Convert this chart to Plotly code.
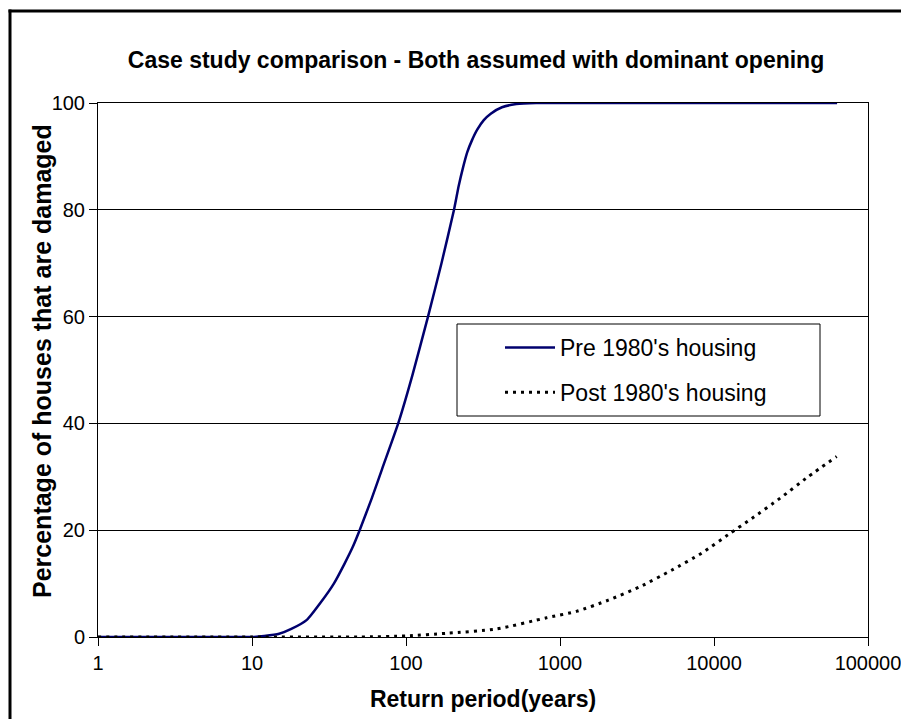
import plotly.graph_objects as go

# ---- data ----
pre_return_period = [1, 2, 5, 10, 12, 15, 18, 22.7, 28, 34, 40, 45, 50, 60, 70, 89, 110, 139,
                     170, 205, 220, 235, 250, 268, 290, 320, 355, 420, 520, 700,
                     1000, 5000, 20000, 63000]
pre_damaged = [0, 0, 0, 0, 0.2, 0.6, 1.5, 3.2, 6.5, 10, 13.8, 16.8, 20, 26, 31.5, 40, 49, 60,
               70, 80, 84.5, 88, 90.8, 93, 95, 96.8, 98, 99.2, 99.8, 100,
               100, 100, 100, 100]

post_return_period = [1, 10, 50, 100, 184, 388, 818, 1280, 2060, 3300, 5300, 8300,
                      12700, 17600, 26900, 40800, 62600]
post_damaged = [0, 0, 0, 0.2, 0.7, 1.5, 3.6, 4.8, 6.9, 9.4, 12.5, 15.7,
                19.4, 22.2, 26, 30, 33.8]

x_tickvals = [1, 10, 100, 1000, 10000, 100000]
x_ticktext = ["1", "10", "100", "1000", "10000", "100000"]
y_tickvals = [0, 20, 40, 60, 80, 100]

FONT = "Liberation Sans, Arial, sans-serif"

fig = go.Figure()
fig.add_trace(go.Scatter(
    x=pre_return_period, y=pre_damaged, mode="lines",
    name="Pre 1980's housing", legendgroup="a",
    line=dict(color="#00006e", width=2.5, shape="spline", smoothing=0.5),
))
fig.add_trace(go.Scatter(
    x=post_return_period, y=post_damaged, mode="lines",
    name="Post 1980's housing", legendgroup="b",
    line=dict(color="black", width=3, dash="3px,5px", shape="spline", smoothing=0.6),
))

# The page body has an 8px margin, so figure coords = page coords - 8
OFF = 8
W, H = 893, 711
L, T = 98 - OFF, 103 - OFF
pw, ph = 770, 534
R = W - L - pw
B = H - T - ph


def px_x(p):
    return (p - OFF - L) / pw


def px_y(p):
    return (H - B - (p - OFF)) / ph


shapes = [
    # outer chart frame (only left/top edges visible in the reference)
    dict(type="line", xref="paper", yref="paper",
         x0=px_x(10), x1=px_x(10), y0=px_y(760), y1=px_y(9.5),
         line=dict(color="black", width=3), layer="below"),
    dict(type="line", xref="paper", yref="paper",
         x0=px_x(8.5), x1=px_x(960), y0=px_y(11), y1=px_y(11),
         line=dict(color="black", width=3), layer="below"),
    # legend box
    dict(type="rect", xref="paper", yref="paper",
         x0=px_x(457), x1=px_x(820), y0=px_y(416), y1=px_y(324),
         line=dict(color="black", width=1), fillcolor="white", layer="above"),
]

annotations = [
    dict(text="<b>Percentage of houses that are damaged</b>",
         xref="paper", yref="paper", x=px_x(42), y=px_y(361),
         xanchor="center", yanchor="middle", textangle=-90, showarrow=False,
         font=dict(size=25, family=FONT, color="black")),
]

fig.update_layout(
    width=W, height=H,
    margin=dict(l=L, r=R, t=T, b=B, autoexpand=False),
    paper_bgcolor="white", plot_bgcolor="white",
    font=dict(family=FONT, color="black", size=20),
    title=dict(
        text="<b>Case study comparison - Both assumed with dominant opening</b>",
        font=dict(family=FONT, size=23, color="black"),
        x=(476 - OFF) / W, xanchor="center", xref="container",
        y=1 - (60 - OFF) / H, yanchor="middle", yref="container",
    ),
    xaxis=dict(
        type="log", range=[0, 5],
        tickvals=x_tickvals, ticktext=x_ticktext,
        showgrid=False, zeroline=False,
        showline=True, linecolor="black", linewidth=1, mirror=True,
        ticks="outside", ticklen=8, tickcolor="black", tickwidth=1,
        tickfont=dict(size=20, family=FONT, color="black"),
        ticklabeloverflow="allow",
        title=dict(text="<b>Return period(years)</b>",
                   font=dict(size=23, family=FONT, color="black"), standoff=17),
        automargin=False,
    ),
    yaxis=dict(
        range=[0, 100], tickvals=y_tickvals,
        showgrid=True, gridcolor="black", gridwidth=1, zeroline=False,
        showline=True, linecolor="black", linewidth=1, mirror=True,
        ticks="outside", ticklen=8, tickcolor="black", tickwidth=1,
        tickfont=dict(size=20, family=FONT, color="black"),
        automargin=False,
    ),
    legend=dict(
        x=px_x(500), xanchor="left", y=px_y(326), yanchor="top",
        bgcolor="rgba(0,0,0,0)", borderwidth=0,
        font=dict(size=23, family=FONT, color="black"),
        traceorder="grouped", tracegroupgap=12, itemwidth=50,
    ),
    shapes=shapes,
    annotations=annotations,
)

fig.write_html("out.html")
